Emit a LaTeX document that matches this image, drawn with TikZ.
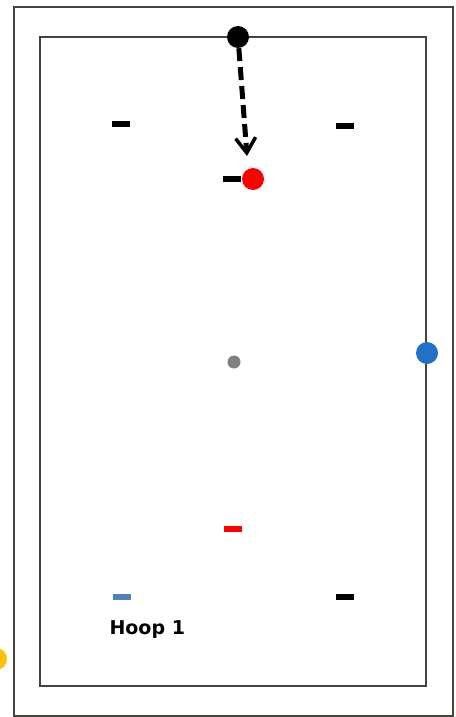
\documentclass[tikz,border=0pt]{standalone}
\usepackage{fontspec}
\setmainfont{DejaVu Sans}
\usetikzlibrary{arrows.meta, positioning, calc}
\definecolor{courtline}{HTML}{45443A}
\definecolor{ballred}{HTML}{FF0000}
\definecolor{ballblue}{HTML}{1F72C4}
\definecolor{ballyellow}{HTML}{FFC000}
\definecolor{ballgray}{HTML}{808080}
\definecolor{hoopblue}{HTML}{4F81BD}
\newcommand{\ball}[4]{%
  \node[circle, fill=#4, inner sep=0pt, minimum size=22pt] (#1) at (#2,#3) {};}
\newcommand{\hoop}[4]{%
  \node[rectangle, fill=#4, inner sep=0pt, minimum width=18pt,
        minimum height=6.5pt] (#1) at (#2,#3) {};}

\begin{document}
\begin{tikzpicture}[x=1pt, y=-1pt]
      \useasboundingbox (0,0) rectangle (455,717);
      \clip (0,0) rectangle (455,717);
      \draw[courtline, line width=2pt] (14,7) rectangle (453,716);
      \draw[courtline, line width=1.6pt] (40,37) rectangle (426,686);
      \hoop{h1}{121}{124}{black}
      \hoop{h2}{345}{126}{black}
      \hoop{h3}{232}{179}{black}
      \hoop{h4}{233}{529}{ballred}
      \hoop{h5}{122}{597}{hoopblue}
      \hoop{h6}{345}{597}{black}
      \ball{striker}{238}{37}{black}
      \ball{redball}{253}{179}{ballred}
      \ball{blueball}{427}{353}{ballblue}
      \ball{yellowball}{-4}{659}{ballyellow}
      \node[circle, fill=ballgray, inner sep=0pt, minimum size=13pt] (peg) at (234,362) {};
      \coordinate (aim) at (247,156);
      \draw[-{Straight Barb[length=15pt, width=20pt, line width=3.5pt]}, line width=5pt,
            dash pattern=on 13pt off 6pt] (striker) -- (aim);
      \node[font=\bfseries\fontsize{19}{22}\selectfont, anchor=base west] (label) at (106,634) {Hoop 1};
    \end{tikzpicture}
\end{document}
